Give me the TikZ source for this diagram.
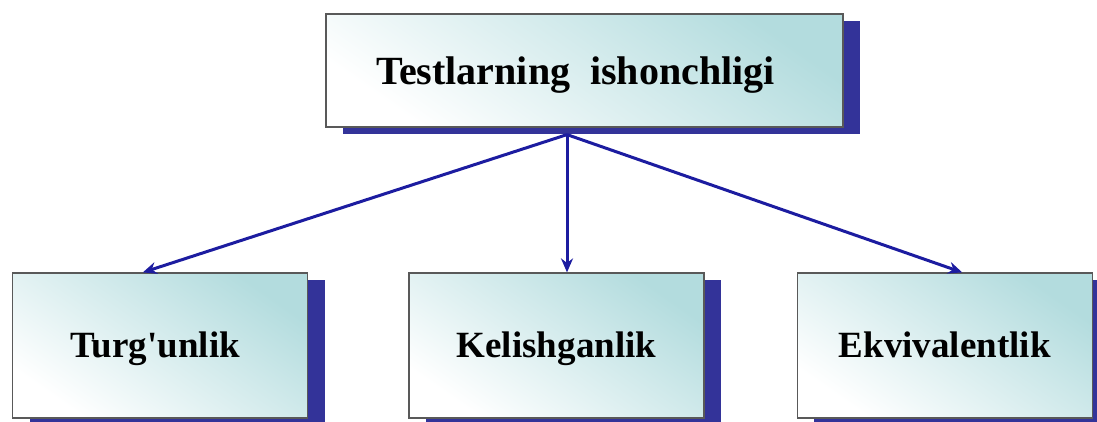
\documentclass[tikz,border=0pt]{standalone}
\usepackage{fontspec}
\setmainfont{Liberation Serif}
\usepackage{xcolor}
\usepackage{tikz}
\usetikzlibrary{arrows.meta,positioning,shadows,calc}

\definecolor{shadowblue}{HTML}{333399}
\definecolor{boxcyan}{HTML}{B3DCDE}
\definecolor{arrowblue}{HTML}{1C1CA0}

\begin{document}
\begin{tikzpicture}[
    x=1pt, y=-1pt,
    node distance=145pt and 100pt,
    box/.style={rectangle, draw=black!65, line width=1.2pt, left color=white, right color=boxcyan, shading angle=145,
        drop shadow={shadow xshift=17pt, shadow yshift=-7pt, fill=shadowblue, opacity=1},
        font=\bfseries\fontsize{37}{41}\selectfont, text height=24pt, text depth=0pt,
        minimum width=295pt, minimum height=145pt},
    topbox/.style={box, font=\bfseries\fontsize{40}{44}\selectfont, text height=27pt, minimum width=517pt, minimum height=113pt},
    link/.style={draw=arrowblue, line width=3pt, -{Stealth[length=14pt,width=12pt]}}
]
    \useasboundingbox (0,0) rectangle (1097,421);

    \node [topbox] (rel) at (584.5,70.5) {Testlarning~~ishonchligi\hspace*{18pt}};
    \node [box] (kel) at (556.5,345.5) {Kelishganlik};
    \node [box, left=100pt of kel] (turg) {Turg\textquotesingle unlik\hspace*{10pt}};
    \node [box, right=92pt of kel] (ekv) {Ekvivalentlik};

    \coordinate (split) at ([xshift=-17.5pt, yshift=-7pt]rel.south);

    \draw [link] (split) -- ([xshift=-17.5pt]turg.north);
    \draw [link] (split) -- (split |- kel.north);
    \draw [link] (split) -- ([xshift=17.5pt]ekv.north);
\end{tikzpicture}
\end{document}
